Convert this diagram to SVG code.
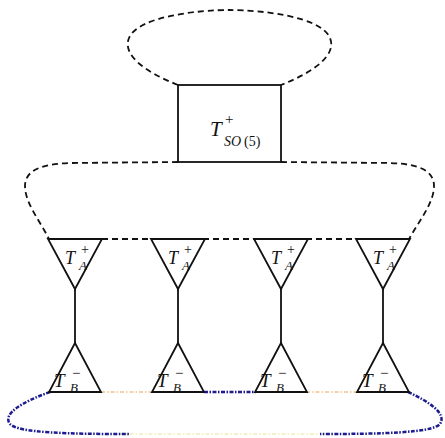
<svg xmlns="http://www.w3.org/2000/svg" width="445" height="438" viewBox="0 0 445 438">
<style>
.s{fill:none;stroke:#111;stroke-width:1.8}
.d{fill:none;stroke:#111;stroke-width:1.8;stroke-dasharray:6 4}
.o{fill:none;stroke:#f0c48c;stroke-width:1.5;stroke-dasharray:4 2 1.5 2}
.b{fill:none;stroke:#1c1c90;stroke-width:2.5;stroke-dasharray:4 1.5 1.5 1.5}
.y{fill:none;stroke:#f3ecb8;stroke-width:1.4;stroke-dasharray:4 2 1.5 2}
.t{font-family:"Liberation Serif","DejaVu Serif",serif;font-style:italic;fill:#111}
.n{font-family:"Liberation Serif","DejaVu Serif",serif;fill:#111}
</style>
<g id="connectors">
<path class="d" d="M178,85 C145,72 122,55 129,38 C138,16 200,10 229.5,10 C259,10 321,16 330,38 C337,55 314,72 281,85"/>
<path class="d" d="M178,162 L70,163 C42,164 25,170 25,186 C25,203 40,221 49,239"/>
<path class="d" d="M281,162 L390,163 C418,164 434,170 434,186 C434,203 419,221 409,239"/>
<path class="d" d="M102,239 H152 M203,239 H255 M306,239 H358"/>
<path class="s" d="M75,289 V343 M178,289 V343 M281,289 V343 M383,289 V343"/>
<path class="o" d="M101,392 H152 M306,392 H358"/>
<path class="b" d="M204,392 H256"/>
<path class="y" d="M120,434 L330,434"/>
<path class="b" d="M50,392 C22,402 2,414 10,424 C18,433 70,434 130,434"/>
<path class="b" d="M408,392 C430,402 447,414 440,424 C432,433 380,434 320,434"/>
</g>
<g id="box">
<rect class="s" x="178" y="85" width="103" height="77"/>
<text class="t" x="210" y="136" font-size="21">T</text>
<text class="n" x="225" y="124" font-size="15">+</text>
<text class="t" x="224" y="146" font-size="14">SO</text><text class="n" x="244" y="146" font-size="14">(5)</text>
</g>
<g id="a1"><path class="s" d="M48,239 H102 L75,289 Z"/><text class="t" x="65" y="264" font-size="18">T</text><text class="n" x="81" y="254" font-size="14">+</text><text class="t" x="79" y="270" font-size="13">A</text></g>
<g id="a2"><path class="s" d="M151,239 H205 L178,289 Z"/><text class="t" x="168" y="264" font-size="18">T</text><text class="n" x="184" y="254" font-size="14">+</text><text class="t" x="182" y="270" font-size="13">A</text></g>
<g id="a3"><path class="s" d="M254,239 H308 L281,289 Z"/><text class="t" x="271" y="264" font-size="18">T</text><text class="n" x="287" y="254" font-size="14">+</text><text class="t" x="285" y="270" font-size="13">A</text></g>
<g id="a4"><path class="s" d="M356,239 H410 L383,289 Z"/><text class="t" x="373" y="264" font-size="18">T</text><text class="n" x="389" y="254" font-size="14">+</text><text class="t" x="387" y="270" font-size="13">A</text></g>
<g id="b1"><path class="s" d="M49,392 H101 L75,343 Z"/><text class="t" x="54" y="387" font-size="19">T</text><text class="n" x="72" y="378" font-size="15">−</text><text class="t" x="70" y="392" font-size="13">B</text></g>
<g id="b2"><path class="s" d="M152,392 H204 L178,343 Z"/><text class="t" x="157" y="387" font-size="19">T</text><text class="n" x="175" y="378" font-size="15">−</text><text class="t" x="173" y="392" font-size="13">B</text></g>
<g id="b3"><path class="s" d="M255,392 H307 L281,343 Z"/><text class="t" x="260" y="387" font-size="19">T</text><text class="n" x="278" y="378" font-size="15">−</text><text class="t" x="276" y="392" font-size="13">B</text></g>
<g id="b4"><path class="s" d="M357,392 H409 L383,343 Z"/><text class="t" x="362" y="387" font-size="19">T</text><text class="n" x="380" y="378" font-size="15">−</text><text class="t" x="378" y="392" font-size="13">B</text></g>
</svg>
